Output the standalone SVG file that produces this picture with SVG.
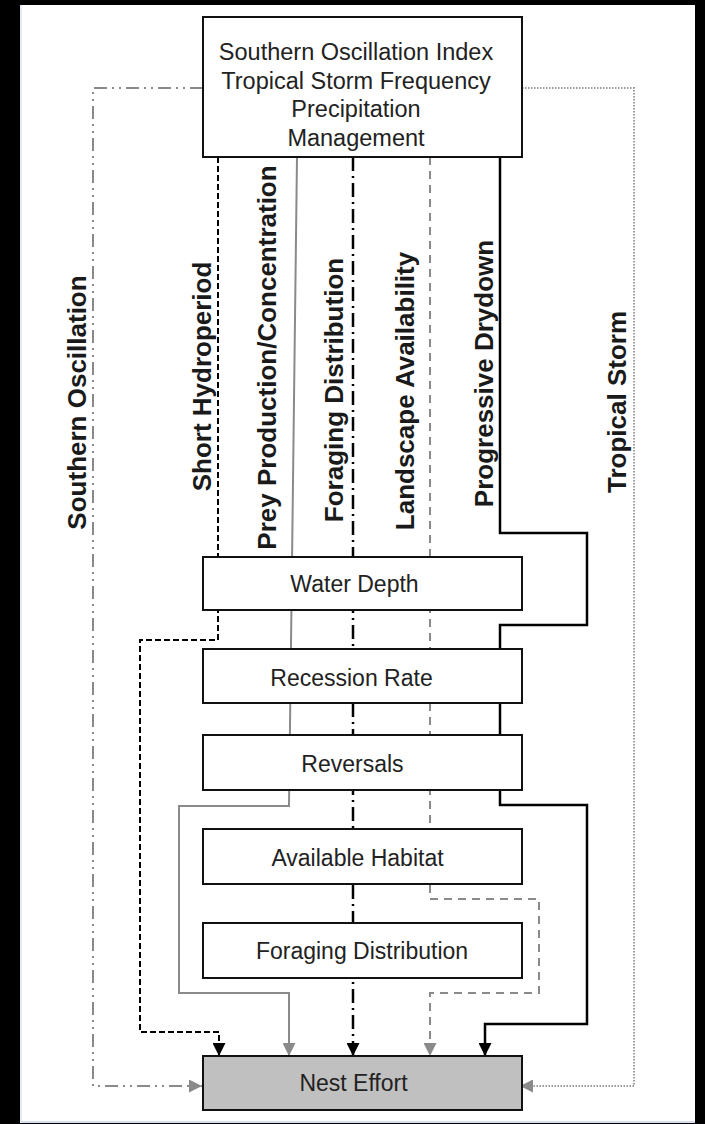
<svg xmlns="http://www.w3.org/2000/svg" width="705" height="1124" viewBox="0 0 705 1124">
<style>
.box{fill:#fff;stroke:#111;stroke-width:2}
.nest{fill:#c0c0c0;stroke:#111;stroke-width:2}
.lbl{font-family:"Liberation Sans",Arial,sans-serif;font-size:23px;fill:#222;text-anchor:middle}
.rot{font-family:"Liberation Sans",Arial,sans-serif;font-size:26px;font-weight:bold;fill:#1a1a1a;text-anchor:middle}
.c{fill:none;stroke-linejoin:miter}
</style>
<defs>
<marker id="ab" markerUnits="userSpaceOnUse" markerWidth="13" markerHeight="13" refX="13" refY="6.5" orient="auto"><path d="M0,0 L13,6.5 L0,13 z" fill="#000" stroke="none"/></marker>
<marker id="ag" markerUnits="userSpaceOnUse" markerWidth="13" markerHeight="13" refX="13" refY="6.5" orient="auto"><path d="M0,0 L13,6.5 L0,13 z" fill="#8a8a8a" stroke="none"/></marker>
</defs>
<rect x="0" y="0" width="705" height="1124" fill="#000"/>
<rect x="20" y="5" width="675" height="1118" fill="#fff"/>
<line x1="21" y1="5" x2="21" y2="1122" stroke="#dbe3ef" stroke-width="1.5"/>
<line x1="21" y1="1122" x2="695" y2="1122" stroke="#c9d5e8" stroke-width="1.5"/>
<g id="connectors">
<path class="c" d="M203,88 H93 V1086 H202" stroke="#8a8a8a" stroke-width="2" stroke-dasharray="13 5 2 5 2 5" marker-end="url(#ag)"/>
<path class="c" d="M522,88 H634 V1086 H520" stroke="#9a9a9a" stroke-width="2" stroke-dasharray="1.5 1.5" marker-end="url(#ag)"/>
<path class="c" d="M218,157 V640 H140 V1032 H219 V1056" stroke="#000" stroke-width="2" stroke-dasharray="6 3" marker-end="url(#ab)"/>
<path class="c" d="M297,157 L289,806 H179 V993 H289 V1056" stroke="#8a8a8a" stroke-width="2" marker-end="url(#ag)"/>
<path class="c" d="M353,157 V1056" stroke="#000" stroke-width="2.5" stroke-dasharray="14 5 2 5" marker-end="url(#ab)"/>
<path class="c" d="M430,157 V899 H539 V993 H430 V1056" stroke="#8a8a8a" stroke-width="2" stroke-dasharray="8 6" marker-end="url(#ag)"/>
<path class="c" d="M500,157 V533 H587 V625 H500 V805 H587 V1024 H485 V1056" stroke="#000" stroke-width="2.5" marker-end="url(#ab)"/>
</g>
<g id="drivers">
<rect class="box" x="203" y="17" width="319" height="140"/>
<text class="lbl" style="font-size:23.5px" x="356" y="60">Southern Oscillation Index</text>
<text class="lbl" style="font-size:23.5px" x="356" y="88.5">Tropical Storm Frequency</text>
<text class="lbl" style="font-size:23.5px" x="356" y="117">Precipitation</text>
<text class="lbl" style="font-size:23.5px" x="356" y="146">Management</text>
</g>
<g id="pathway-labels">
<text class="rot" transform="translate(86,402.5) rotate(-90)">Southern Oscillation</text>
<text class="rot" transform="translate(211,376.5) rotate(-90)">Short Hydroperiod</text>
<text class="rot" transform="translate(276,357.5) rotate(-90)">Prey Production/Concentration</text>
<text class="rot" transform="translate(343,390) rotate(-90)">Foraging Distribution</text>
<text class="rot" transform="translate(414,391) rotate(-90)">Landscape Availability</text>
<text class="rot" transform="translate(493,373.5) rotate(-90)">Progressive Drydown</text>
<text class="rot" transform="translate(626,402) rotate(-90)">Tropical Storm</text>
</g>
<g id="water-depth">
<rect class="box" x="203" y="557" width="319" height="53"/>
<text class="lbl" x="354.5" y="592">Water Depth</text>
</g>
<g id="recession-rate">
<rect class="box" x="203" y="649" width="319" height="54"/>
<text class="lbl" x="351.5" y="686">Recession Rate</text>
</g>
<g id="reversals">
<rect class="box" x="203" y="735" width="319" height="55"/>
<text class="lbl" x="352.5" y="772">Reversals</text>
</g>
<g id="available-habitat">
<rect class="box" x="203" y="829" width="319" height="55"/>
<text class="lbl" x="357.5" y="866">Available Habitat</text>
</g>
<g id="foraging-distribution">
<rect class="box" x="203" y="923" width="319" height="55"/>
<text class="lbl" x="362" y="959">Foraging Distribution</text>
</g>
<g id="nest-effort">
<rect class="nest" x="203" y="1056" width="319" height="54"/>
<text class="lbl" x="353.5" y="1091">Nest Effort</text>
</g>
</svg>
